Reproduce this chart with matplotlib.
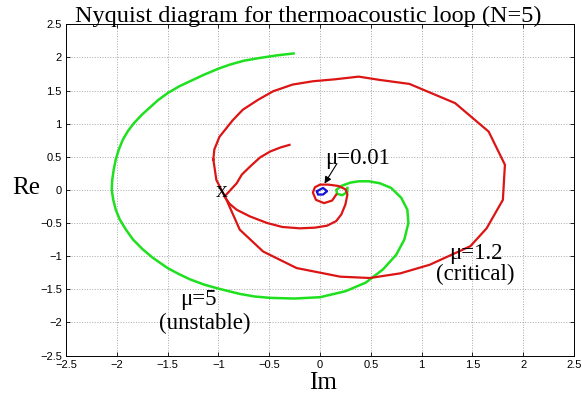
"""
Nyquist diagram for the thermoacoustic loop (N=5), three gains.

Writes: out.png
"""

import matplotlib
matplotlib.use("Agg")
import matplotlib.pyplot as plt

SERIF = ["Liberation Serif", "DejaVu Serif"]
SANS = ["Liberation Sans", "DejaVu Sans"]

GREEN = "#1fe01f"
RED = "#dc1414"
BLUE = "#1414d8"

# mu = 5 (unstable): from the inner curl out to the open end at the top
green_x = [0.27, 0.27, 0.22, 0.17, 0.16, 0.21, 0.30, 0.38, 0.48, 0.59, 0.70, 0.80,
           0.86, 0.87, 0.83, 0.75, 0.62, 0.45, 0.25, 0.00, -0.25, -0.49, -0.64,
           -0.79, -1.00, -1.14, -1.28, -1.39, -1.50, -1.65, -1.75, -1.84, -1.91,
           -1.97, -2.01, -2.035, -2.05, -2.045, -2.03, -2.01, -1.98, -1.94, -1.89,
           -1.83, -1.75, -1.67, -1.59, -1.50, -1.39, -1.28, -1.14, -1.00, -0.89,
           -0.75, -0.60, -0.43, -0.26]
green_y = [0.03, -0.03, -0.08, -0.06, 0.00, 0.06, 0.11, 0.13, 0.13, 0.10, 0.03, -0.12,
           -0.30, -0.50, -0.75, -0.98, -1.20, -1.40, -1.53, -1.62, -1.64, -1.63, -1.61,
           -1.57, -1.49, -1.43, -1.35, -1.27, -1.18, -1.02, -0.89, -0.75, -0.60,
           -0.45, -0.30, -0.15, 0.00, 0.15, 0.31, 0.46, 0.61, 0.76, 0.89,
           1.01, 1.14, 1.25, 1.36, 1.46, 1.56, 1.64, 1.74, 1.83, 1.89,
           1.95, 1.99, 2.03, 2.06]

# mu = 1.2 (critical): outer loop through the -1 point
red_outer_x = [-1.05, -1.04, -0.99, -0.86, -0.76, -0.61, -0.46, -0.27, -0.07, 0.15,
               0.38, 0.59, 0.88, 1.33, 1.66, 1.82, 1.80, 1.64, 1.48, 1.08, 0.79, 0.49,
               0.20, -0.23, -0.56, -0.79, -0.92, -1.02, -1.05]
red_outer_y = [0.46, 0.61, 0.80, 1.05, 1.21, 1.36, 1.49, 1.59, 1.64, 1.67,
               1.71, 1.66, 1.60, 1.31, 0.88, 0.38, -0.15, -0.58, -0.85, -1.13, -1.26,
               -1.33, -1.31, -1.18, -0.93, -0.60, -0.15, 0.15, 0.46]

# mu = 1.2 (critical): inner spiral down to the small loop near the origin
red_inner_x = [-0.30, -0.39, -0.49, -0.59, -0.69, -0.77, -0.82, -0.94, -0.89, -0.82,
               -0.69, -0.52, -0.37, -0.20, -0.05, 0.07, 0.16, 0.21, 0.25, 0.27, 0.25,
               0.18, 0.08, 0.00, -0.05, -0.07, -0.04, 0.04, 0.12, 0.16]
red_inner_y = [0.68, 0.64, 0.58, 0.49, 0.35, 0.23, 0.10, -0.10, -0.21, -0.30,
               -0.40, -0.50, -0.56, -0.58, -0.57, -0.54, -0.47, -0.37, -0.22, -0.07, 0.01,
               0.06, 0.08, 0.08, 0.04, -0.04, -0.15, -0.20, -0.16, -0.07]

# mu = 0.01: tiny loop at the origin
blue_x = [-0.03, 0.03, 0.07, 0.03, -0.02, -0.03]
blue_y = [-0.02, 0.03, -0.02, -0.07, -0.07, -0.02]

ticks = [-2.5, -2, -1.5, -1, -0.5, 0, 0.5, 1, 1.5, 2, 2.5]
tick_labels = ["\u22122.5", "\u22122", "\u22121.5", "\u22121", "\u22120.5", "0",
               "0.5", "1", "1.5", "2", "2.5"]


def main():
    fig = plt.figure(figsize=(5.82, 3.97), dpi=100)
    ax = fig.add_axes([66 / 582, 1 - 355.5 / 397, 508 / 582, 331.2 / 397])

    ax.plot(green_x, green_y, color=GREEN, lw=1.8, solid_joinstyle="round")
    ax.plot(red_outer_x, red_outer_y, color=RED, lw=1.6, solid_joinstyle="miter")
    ax.plot(red_inner_x, red_inner_y, color=RED, lw=1.6, solid_joinstyle="round")
    ax.plot(blue_x, blue_y, color=BLUE, lw=1.6)

    ax.set_xlim(-2.5, 2.5)
    ax.set_ylim(-2.5, 2.5)
    ax.set_xticks(ticks)
    ax.set_yticks(ticks)
    ax.set_xticklabels(tick_labels, family=SANS, fontsize=8)
    ax.set_yticklabels(tick_labels, family=SANS, fontsize=8)
    ax.tick_params(direction="in", length=3, width=0.6, top=True, right=True, pad=3)
    ax.grid(True, linestyle=":", color="#a8a8a8", lw=0.7)
    for sp in ax.spines.values():
        sp.set_linewidth(0.7)

    # critical point
    ax.text(-0.97, -0.02, "x", family=SERIF, fontsize=17, ha="center", va="center")

    lab = dict(family=SERIF, fontsize=16.5, ha="center", va="center")
    ax.text(0.37, 0.47, "\u03bc=0.01", **lab)
    ax.annotate("", xy=(0.03, 0.06), xytext=(0.18, 0.43),
                arrowprops=dict(arrowstyle="-|>", color="k", lw=0.8, mutation_scale=10))

    ax.text(1.53, -0.96, "\u03bc=1.2", **lab)
    ax.text(1.53, -1.27, "(critical)", **lab)
    ax.text(-1.20, -1.66, "\u03bc=5", **lab)
    ax.text(-1.13, -2.02, "(unstable)", **lab)

    fig.text(308 / 582, 1 - 22 / 397, "Nyquist diagram for thermoacoustic loop (N=5)",
             family=SERIF, fontsize=17.5, ha="center", va="baseline")
    fig.text(26 / 582, 1 - 188 / 397, "Re", family=SERIF, fontsize=18, ha="center", va="center")
    fig.text(323 / 582, 1 - 383 / 397, "Im", family=SERIF, fontsize=18, ha="center", va="center")

    fig.savefig("out.png", dpi=100)
    plt.close(fig)


if __name__ == "__main__":
    main()
